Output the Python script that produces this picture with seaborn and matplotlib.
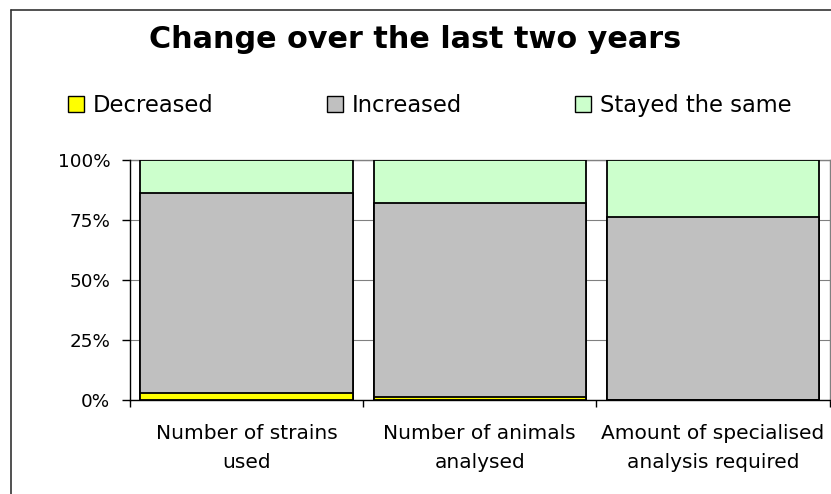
import matplotlib
matplotlib.use("Agg")
import matplotlib.pyplot as plt
from matplotlib.patches import Patch
from matplotlib.lines import Line2D
import seaborn as sns
import pandas as pd

# Survey responses (% of respondents) per item
categories = ["Number of strains\nused",
              "Number of animals\nanalysed",
              "Amount of specialised\nanalysis required"]
decreased = [2.8, 1.1, 0.0]
increased = [83.6, 81.0, 76.3]
stayed = [13.6, 17.9, 23.7]
series_names = ["Decreased", "Increased", "Stayed the same"]
series_colors = ["#FFFF00", "#C0C0C0", "#CCFFCC"]
y_ticks = [0, 25, 50, 75, 100]
y_tick_labels = ["0%", "25%", "50%", "75%", "100%"]

sns.set_theme(style="white")
plt.rcParams["font.family"] = ["DejaVu Sans"]
plt.rcParams["text.color"] = "black"

W, H = 831, 494
fig = plt.figure(figsize=(W / 100, H / 100), dpi=100)
fig.patch.set_facecolor("white")

left, right, bottom, top = 130, 829.5, 400, 160
ax = fig.add_axes([left / W, 1 - bottom / H, (right - left) / W, (bottom - top) / H])

df = pd.DataFrame({
    "category": categories,
    "dec": decreased,
    "inc": increased,
    "same": stayed,
})
# cumulative heights, drawn tallest first so the shorter segments sit on top
df["top_same"] = df["dec"] + df["inc"] + df["same"]
df["top_inc"] = df["dec"] + df["inc"]
df["top_dec"] = df["dec"]

for col, color in zip(["top_same", "top_inc", "top_dec"], series_colors[::-1]):
    sns.barplot(data=df, x="category", y=col, color=color, width=0.91,
                edgecolor="black", linewidth=1.3, saturation=1, ax=ax,
                zorder=3)

ax.set_xlim(-0.5, 2.5)
ax.set_ylim(0, 100)
ax.set_xlabel("")
ax.set_ylabel("")

ax.set_yticks(y_ticks)
ax.set_yticklabels(y_tick_labels, fontsize=13.2, color="black")
ax.tick_params(axis="y", which="major", left=True, direction="out",
               length=5.8, width=1, color="black", pad=8.5)

ax.set_xticks(range(len(categories)))
ax.set_xticklabels(categories, fontsize=14.5, color="black", linespacing=1.72)
ax.tick_params(axis="x", which="major", bottom=True, length=0, pad=17)
ax.set_xticks([-0.5, 0.5, 1.5, 2.5], minor=True)
ax.tick_params(axis="x", which="minor", bottom=True, direction="out",
               length=5, width=1, color="black")

ax.yaxis.grid(True, color="#808080", linewidth=0.8)
ax.xaxis.grid(False)
ax.set_axisbelow(True)

for side in ["left", "bottom"]:
    ax.spines[side].set_color("black")
    ax.spines[side].set_linewidth(1.0)
    ax.spines[side].set_zorder(5)
for side in ["top", "right"]:
    ax.spines[side].set_color("#808080")
    ax.spines[side].set_linewidth(1.0)

fig.text(0.5, 1 - 48 / H, "Change over the last two years", ha="center",
         va="baseline", fontsize=21.8, fontweight="bold", color="black")

handles = [Patch(facecolor=c, edgecolor="black", linewidth=1.0) for c in series_colors]
fig.legend(handles, series_names, loc="center left",
           bbox_to_anchor=(68 / W, 1 - 105 / H), bbox_transform=fig.transFigure,
           ncol=3, frameon=False, fontsize=16.3, handlelength=0.7,
           handleheight=0.7, handletextpad=0.4, columnspacing=5.0,
           borderpad=0, borderaxespad=0, labelcolor="black")

# chart border (left and top edges inside the image)
fig.add_artist(Line2D([10.7 / W, 10.7 / W], [0, 1 - 10 / H],
                      transform=fig.transFigure, color="#333333", linewidth=1.2))
fig.add_artist(Line2D([10.7 / W, 1], [1 - 10 / H, 1 - 10 / H],
                      transform=fig.transFigure, color="#333333", linewidth=1.2))

fig.savefig("out.png", dpi=100, facecolor="white")
